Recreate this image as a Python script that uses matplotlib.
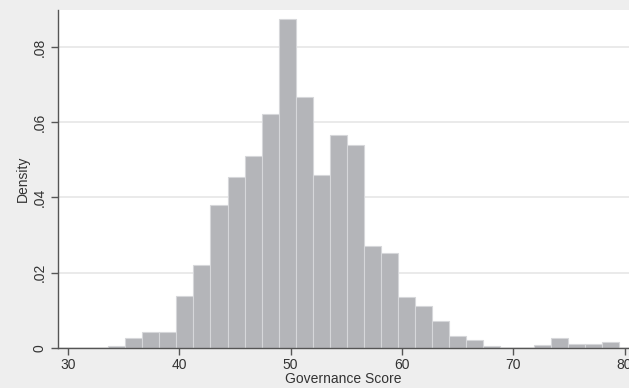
import matplotlib
matplotlib.use("Agg")
import matplotlib.pyplot as plt
import numpy as np

plt.rcParams['font.family'] = ['Liberation Sans', 'DejaVu Sans']

# histogram bins (Governance Score) and density heights
bin_start = 33.62
bin_width = 1.53
density = [0.0004, 0.0026, 0.0043, 0.0043, 0.0139, 0.0220, 0.0380, 0.0454,
           0.0509, 0.0623, 0.0874, 0.0667, 0.0459, 0.0566, 0.0539, 0.0271,
           0.0253, 0.0135, 0.0112, 0.0071, 0.0032, 0.0021, 0.0004, 0.0,
           0.0, 0.0008, 0.0026, 0.0010, 0.0010, 0.0017]

x_ticks = [30, 40, 50, 60, 70, 80]
y_ticks = [0, 0.02, 0.04, 0.06, 0.08]
y_tick_labels = ["0", ".02", ".04", ".06", ".08"]

edges = bin_start + bin_width * np.arange(len(density))

fig = plt.figure(figsize=(6.29, 3.88), dpi=100, facecolor='#eeeeee')
ax = fig.add_axes([0.0922, 0.1031, 0.9078, 0.8709])
ax.set_facecolor('white')

ax.bar(edges, density, width=bin_width, align='edge',
       color='#b4b5b9', edgecolor='#d6d7da', linewidth=0.8, zorder=3)

ax.set_xlim(29.1, 80.4)
ax.set_ylim(0, 0.0898)

ax.set_yticks(y_ticks)
ax.set_yticklabels(y_tick_labels, rotation=90, va='center')
ax.set_xticks(x_ticks)
ax.grid(axis='y', color='#e6e6e6', linewidth=1.2, zorder=0)

for side in ['top', 'right']:
    ax.spines[side].set_visible(False)
for side in ['left', 'bottom']:
    ax.spines[side].set_color('#555555')
    ax.spines[side].set_linewidth(1.0)
    ax.spines[side].set_zorder(4)

ax.tick_params(axis='both', colors='#555555', labelcolor='#333333',
               labelsize=10, length=5, width=1.0)
ax.tick_params(axis='x', pad=2)
ax.tick_params(axis='y', pad=3)

ax.set_xlabel("Governance Score", fontsize=10, color='#333333', labelpad=0)
ax.set_ylabel("Density", fontsize=10, color='#333333', labelpad=2)

fig.savefig("out.png", dpi=100, facecolor=fig.get_facecolor())
